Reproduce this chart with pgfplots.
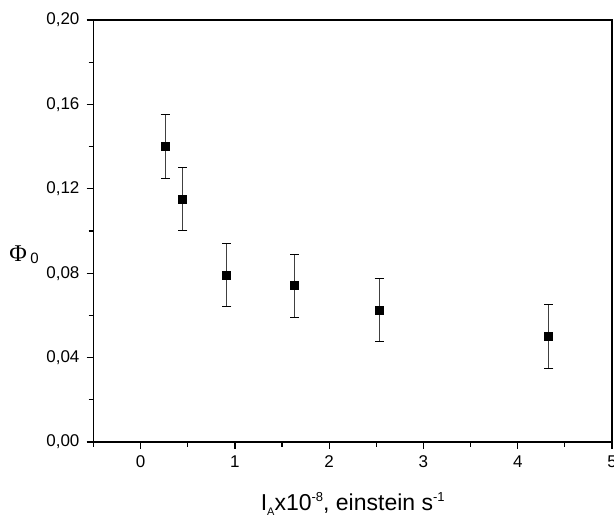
\documentclass[border=0pt]{standalone}
\usepackage{fontspec}
\setmainfont{Liberation Sans}
\newfontfamily\serifphi{Liberation Serif}
\usepackage{pgfplots}
\pgfplotsset{compat=1.18}

\begin{document}
\begin{tikzpicture}
\begin{axis}[
    name=ax,
    scale only axis,
    width=259.25pt,
    height=211pt,
    xmin=-0.5, xmax=5,
    ymin=0, ymax=0.20,
    xtick={0,1,2,3,4,5},
    minor xtick={-0.5,0.5,1.5,2.5,3.5,4.5},
    ytick={0,0.04,0.08,0.12,0.16,0.20},
    minor ytick={0.02,0.06,0.10,0.14,0.18},
    xtick pos=bottom, ytick pos=left,
    tick align=outside,
    major tick length=3.5pt,
    minor tick length=2.5pt,
    axis line style={line width=0.75pt},
    every tick/.style={black, line width=0.6pt},
    tick label style={font=\fontsize{8.5}{10}\selectfont},
    /pgf/number format/assume math mode=true,
    yticklabel style={/pgf/number format/.cd, use comma, fixed, fixed zerofill, precision=2},
    xticklabel style={/pgf/number format/.cd, fixed, precision=0},
    xlabel={I\raisebox{-0.4ex}{\fontsize{5.5}{6}\selectfont A}x10\raisebox{0.75ex}{\fontsize{6.5}{7}\selectfont -8}, einstein s\raisebox{0.75ex}{\fontsize{6.5}{7}\selectfont -1}},
    xlabel style={font=\fontsize{11.5}{13}\selectfont, at={(axis description cs:0.5,-0.162)}, anchor=base, inner sep=0pt},
    ylabel={{\serifphi\fontsize{12}{14}\selectfont Φ}\,\raisebox{-0.2ex}{\fontsize{7.5}{9}\selectfont 0}},
    ylabel style={rotate=-90, at={(axis description cs:-0.134,0.443)}, anchor=center, inner sep=0pt},
    clip=false,
]
\addplot[only marks, mark=square*, mark size=2pt, black,
    error bars/.cd, y dir=both, y explicit,
    error bar style={line width=0.5pt, black!75},
    error mark options={rotate=90, mark size=2.25pt, line width=0.5pt, black}]
    table[x=x, y=y, y error=e] {
x      y       e
0.26   0.140   0.015
0.447  0.115   0.015
0.915  0.079   0.015
1.634  0.074   0.015
2.53   0.0626  0.015
4.33   0.050   0.015
};
\end{axis}
\pgfresetboundingbox
\path[use as bounding box] ([shift={(-46.75pt,-37.5pt)}]ax.south west) rectangle ([shift={(1pt,10pt)}]ax.north east);
\end{tikzpicture}
\end{document}
